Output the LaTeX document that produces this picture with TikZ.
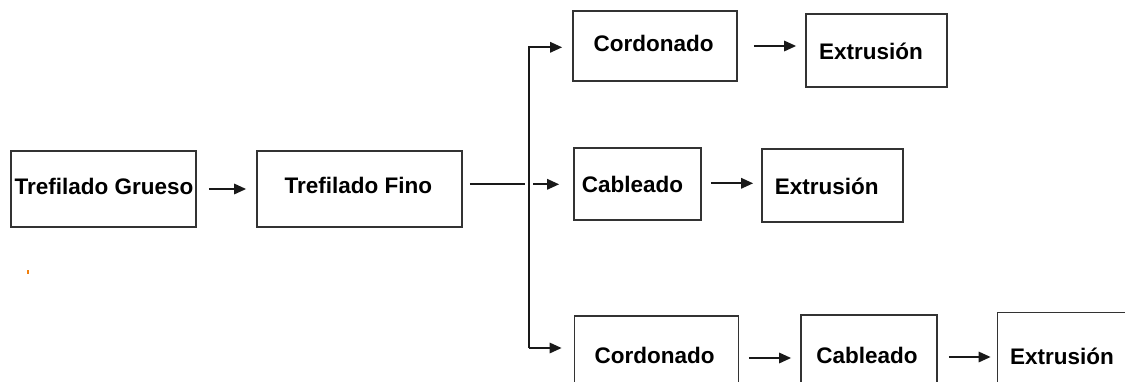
\documentclass[tikz,border=0pt]{standalone}
\usepackage{fontspec}
\setmainfont{Liberation Sans}
\usetikzlibrary{arrows.meta}

\begin{document}
\begin{tikzpicture}[x=1pt,y=-1pt,
  box/.style={draw=black!80, line width=1.8pt, rectangle, inner sep=0pt, fill=white},
  lbl/.style={anchor=base, inner sep=0pt, font=\fontsize{22.5}{27}\selectfont\bfseries},
  link/.style={draw=black!90, line width=1.7pt},
  arr/.style={link, -{Triangle[length=12pt,width=10.5pt]}}]
  \useasboundingbox (0,0) rectangle (1125,381);
  \clip (0,0) rectangle (1125,381);
  \fill[white] (0,0) rectangle (1125,381);

  % process boxes
  \node[box, minimum width=185pt, minimum height=76pt] (gru)  at (103.5,189)   {};
  \node[box, minimum width=205pt, minimum height=76pt] (fin)  at (359.5,189)   {};
  \node[box, minimum width=164pt, minimum height=70pt] (cor1) at (655,46)      {};
  \node[box, minimum width=141pt, minimum height=73pt] (ext1) at (876.5,50.5)  {};
  \node[box, minimum width=127pt, minimum height=72pt] (cab2) at (637.5,184)   {};
  \node[box, minimum width=141pt, minimum height=73pt] (ext2) at (832.5,185.5) {};
  \node[box, minimum width=164pt, minimum height=84pt] (cor3) at (656.5,358)   {};
  \node[box, minimum width=136pt, minimum height=84pt] (cab3) at (869,357)     {};
  \node[box, minimum width=143pt, minimum height=89pt] (ext3) at (1069,357)    {};

  % labels
  \node[lbl] (tgru)  at (104,194)    {Trefilado Grueso};
  \node[lbl] (tfin)  at (358.3,193.3) {Trefilado Fino};
  \node[lbl] (tcor1) at (653.7,51.7) {Cordonado};
  \node[lbl] (text1) at (871,59.5)   {Extrusión};
  \node[lbl] (tcab2) at (632.5,192.7) {Cableado};
  \node[lbl] (text2) at (826.7,194.3) {Extrusión};
  \node[lbl] (tcor3) at (654.6,363)  {Cordonado};
  \node[lbl] (tcab3) at (867,363.9)  {Cableado};
  \node[lbl] (text3) at (1062,364.5) {Extrusión};

  % branching point
  \coordinate (j)  at (529,184.3);
  \coordinate (jt) at (529,47.3);
  \coordinate (jb) at (529,348);

  % connectors
  \draw[arr] ([xshift=12pt]gru.east) -- ([xshift=-10pt]fin.west);
  \draw[link] ([xshift=7pt]fin.east |- j) -- ([xshift=-4pt]j);
  \draw[arr] (jb) -- (jt) -- ([xshift=-10pt]cor1.west |- jt);
  \draw[arr] ([xshift=4pt]j) -- ([xshift=-14pt]cab2.west |- j);
  \draw[arr] (jb) -- ([xshift=-12pt]cor3.west |- jb);

  \draw[arr] ([xshift=16pt]cor1.east) -- ([xshift=-9pt]ext1.west |- cor1.east);
  \draw[arr] ([xshift=9pt]cab2.east |- 0,183.3) -- ([xshift=-8pt]ext2.west |- 0,183.3);
  \draw[arr] ([xshift=9.5pt]cor3.east) -- ([xshift=-9pt]cab3.west |- cor3.east);
  \draw[arr] ([xshift=11pt]cab3.east) -- ([xshift=-6pt]ext3.west |- cab3.east);

  % small stray mark
  \fill[orange!80!brown] (27,270) rectangle (29,273.5);
\end{tikzpicture}
\end{document}
